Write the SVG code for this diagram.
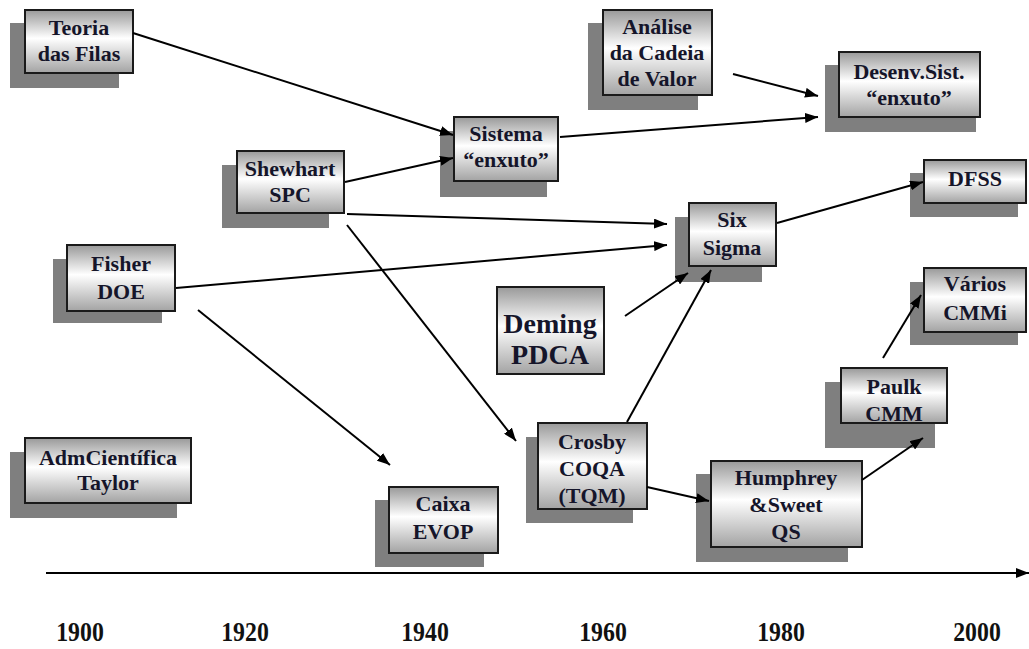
<svg xmlns="http://www.w3.org/2000/svg" width="1029" height="649" viewBox="0 0 1029 649">
  <style>
    .shadow { fill: #7f7f7f; }
    .box { fill: url(#boxFill); stroke: #1a1a1a; stroke-width: 2; }
    .lbl { font-family: "Liberation Serif", "Times New Roman", serif; font-weight: bold; font-size: 22px; fill: #15152a; text-anchor: middle; }
    .big { font-size: 28px; }
    .year { font-family: "Liberation Serif", "Times New Roman", serif; font-weight: bold; font-size: 28px; fill: #111; text-anchor: middle; }
    .link { stroke: #000; stroke-width: 2; fill: none; marker-end: url(#head); }
  </style>
  <defs>
    <linearGradient id="boxFill" x1="0" y1="0" x2="0" y2="1">
      <stop offset="0" stop-color="#999999"/>
      <stop offset="0.45" stop-color="#ffffff"/>
      <stop offset="1" stop-color="#a3a3a3"/>
    </linearGradient>
    <marker id="head" markerUnits="userSpaceOnUse" markerWidth="13" markerHeight="10" refX="13" refY="5" orient="auto">
      <path d="M0,0 L13,5 L0,10 z" fill="#000"/>
    </marker>
  </defs>

  <rect width="1029" height="649" fill="#fff"/>

  <g id="teoria">
    <rect class="shadow" x="10" y="23" width="109" height="65"/>
    <rect class="box" x="25" y="10" width="108" height="63"/>
    <text class="lbl" x="79" y="35">Teoria</text>
    <text class="lbl" x="79" y="61">das Filas</text>
  </g>

  <g id="analise">
    <rect class="shadow" x="588" y="23" width="110" height="87"/>
    <rect class="box" x="603" y="10" width="109" height="85"/>
    <text class="lbl" x="657" y="34">Análise</text>
    <text class="lbl" x="657" y="60">da Cadeia</text>
    <text class="lbl" x="657" y="86">de Valor</text>
  </g>

  <g id="desenv">
    <rect class="shadow" x="825" y="65" width="151" height="67"/>
    <rect class="box" x="839" y="52" width="141" height="65"/>
    <text class="lbl" x="909" y="79">Desenv.Sist.</text>
    <text class="lbl" x="909" y="105">“enxuto”</text>
  </g>

  <g id="shewhart">
    <rect class="shadow" x="222" y="165" width="107" height="63"/>
    <rect class="box" x="237" y="151" width="107" height="62"/>
    <text class="lbl" x="290" y="176">Shewhart</text>
    <text class="lbl" x="290" y="202">SPC</text>
  </g>

  <g id="sistema">
    <rect class="shadow" x="440" y="131" width="107" height="66"/>
    <rect class="box" x="454" y="117" width="104" height="64"/>
    <text class="lbl" x="506" y="141">Sistema</text>
    <text class="lbl" x="506" y="167">“enxuto”</text>
  </g>

  <g id="fisher">
    <rect class="shadow" x="53" y="259" width="109" height="64"/>
    <rect class="box" x="67" y="245" width="108" height="66"/>
    <text class="lbl" x="121" y="271">Fisher</text>
    <text class="lbl" x="121" y="299">DOE</text>
  </g>

  <g id="sixsigma">
    <rect class="shadow" x="675" y="217" width="87" height="65"/>
    <rect class="box" x="689" y="203" width="87" height="63"/>
    <text class="lbl" x="732" y="227">Six</text>
    <text class="lbl" x="732" y="255">Sigma</text>
  </g>

  <g id="dfss">
    <rect class="shadow" x="910" y="173" width="108" height="44"/>
    <rect class="box" x="924" y="160" width="102" height="43"/>
    <text class="lbl" x="975" y="186">DFSS</text>
  </g>

  <g id="deming">
    <rect class="box" x="497" y="287" width="107" height="87"/>
    <text class="lbl big" x="550" y="333">Deming</text>
    <text class="lbl big" x="550" y="364">PDCA</text>
  </g>

  <g id="varios">
    <rect class="shadow" x="910" y="282" width="108" height="63"/>
    <rect class="box" x="924" y="268" width="102" height="64"/>
    <text class="lbl" x="975" y="291">Vários</text>
    <text class="lbl" x="975" y="320">CMMi</text>
  </g>

  <g id="paulk">
    <rect class="shadow" x="825" y="382" width="110" height="66"/>
    <rect class="box" x="841" y="368" width="106" height="55"/>
    <text class="lbl" x="894" y="394">Paulk</text>
    <text class="lbl" x="894" y="421">CMM</text>
  </g>

  <g id="taylor">
    <rect class="shadow" x="10" y="452" width="167" height="66"/>
    <rect class="box" x="25" y="438" width="166" height="65"/>
    <text class="lbl" x="108" y="465">AdmCientífica</text>
    <text class="lbl" x="108" y="490">Taylor</text>
  </g>

  <g id="caixa">
    <rect class="shadow" x="375" y="500" width="109" height="67"/>
    <rect class="box" x="389" y="487" width="109" height="66"/>
    <text class="lbl" x="443" y="511">Caixa</text>
    <text class="lbl" x="443" y="539">EVOP</text>
  </g>

  <g id="crosby">
    <rect class="shadow" x="526" y="437" width="107" height="86"/>
    <rect class="box" x="538" y="423" width="109" height="86"/>
    <text class="lbl" x="592" y="449">Crosby</text>
    <text class="lbl" x="592" y="476">COQA</text>
    <text class="lbl" x="592" y="503">(TQM)</text>
  </g>

  <g id="humphrey">
    <rect class="shadow" x="696" y="474" width="152" height="88"/>
    <rect class="box" x="711" y="461" width="151" height="86"/>
    <text class="lbl" x="786" y="485">Humphrey</text>
    <text class="lbl" x="786" y="512">&amp;Sweet</text>
    <text class="lbl" x="786" y="539">QS</text>
  </g>

  <g id="connectors">
    <line class="link" x1="133" y1="33" x2="453" y2="135"/>
    <line class="link" x1="345" y1="182" x2="453" y2="158"/>
    <line class="link" x1="560" y1="137" x2="818" y2="117"/>
    <line class="link" x1="733" y1="74" x2="818" y2="96"/>
    <line class="link" x1="347" y1="214" x2="667" y2="224"/>
    <line class="link" x1="176" y1="288" x2="667" y2="245"/>
    <line class="link" x1="347" y1="225" x2="516" y2="441"/>
    <line class="link" x1="198" y1="310" x2="390" y2="465"/>
    <line class="link" x1="625" y1="316" x2="688" y2="273"/>
    <line class="link" x1="627" y1="422" x2="711" y2="270"/>
    <line class="link" x1="777" y1="223" x2="923" y2="182"/>
    <line class="link" x1="647" y1="487" x2="709" y2="501"/>
    <line class="link" x1="862" y1="480" x2="923" y2="438"/>
    <line class="link" x1="883" y1="358" x2="921" y2="295"/>
  </g>

  <g id="timeline">
    <line class="link" x1="46" y1="573" x2="1029" y2="573"/>
    <!-- year labels: tall, narrow bold figures -->
    <text class="year" transform="translate(80,641) scale(0.85,1)">1900</text>
    <text class="year" transform="translate(245,641) scale(0.85,1)">1920</text>
    <text class="year" transform="translate(425,641) scale(0.85,1)">1940</text>
    <text class="year" transform="translate(603,641) scale(0.85,1)">1960</text>
    <text class="year" transform="translate(781,641) scale(0.85,1)">1980</text>
    <text class="year" transform="translate(977,641) scale(0.85,1)">2000</text>
  </g>
</svg>
